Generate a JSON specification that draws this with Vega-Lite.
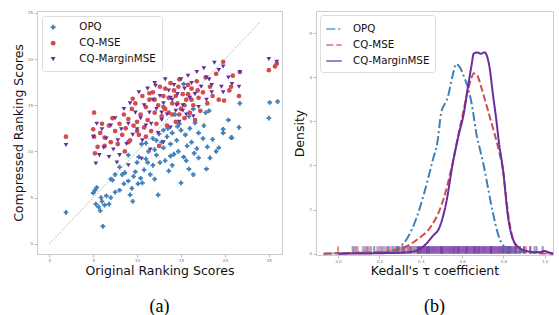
{
"$schema": "https://vega.github.io/schema/vega-lite/v6.json",
"background": "white",
"padding": {"left": 11, "top": 10, "right": 4, "bottom": 0},
"resolve": {"scale": {"color": "independent", "shape": "independent", "strokeDash": "independent"}, "legend": {"color": "independent", "shape": "independent", "strokeDash": "independent"}},
"config": {
 "view": {"stroke": "#cccccc", "strokeWidth": 1},
 "axis": {"domain": false, "grid": false, "tickColor": "#bbbbbb", "tickSize": 3, "labelFontSize": 4, "labelColor": "#777777", "labelPadding": 1.5, "labelFont": "DejaVu Sans", "titleFont": "DejaVu Sans", "titleFontSize": 12.5, "titleFontWeight": "normal", "titleColor": "#111111"},
 "legend": {"title": null, "orient": "top-left", "labelFont": "DejaVu Sans", "labelFontSize": 10.3, "labelColor": "#111111", "strokeColor": "#dddddd", "fillColor": "white", "cornerRadius": 3, "rowPadding": 4},
 "title": {"font": "Liberation Serif", "fontSize": 18, "fontWeight": "normal", "orient": "bottom", "anchor": "middle", "offset": 21, "color": "black"},
 "concat": {"spacing": 10}
},
"datasets": {
 "pts": [
{"m":"OPQ","x":1.9,"y":3.4},{"m":"OPQ","x":6.1,"y":1.9},{"m":"OPQ","x":5.0,"y":5.5},{"m":"OPQ","x":5.2,"y":5.8},{"m":"OPQ","x":5.4,"y":6.1},{"m":"OPQ","x":5.6,"y":4.0},{"m":"OPQ","x":5.3,"y":4.3},{"m":"OPQ","x":5.8,"y":3.6},{"m":"OPQ","x":6.0,"y":4.6},{"m":"OPQ","x":6.3,"y":4.2},{"m":"OPQ","x":5.9,"y":5.0},{"m":"OPQ","x":6.5,"y":5.2},{"m":"OPQ","x":7.0,"y":7.0},{"m":"OPQ","x":7.2,"y":6.9},{"m":"OPQ","x":7.5,"y":5.6},{"m":"OPQ","x":7.0,"y":5.0},{"m":"OPQ","x":6.8,"y":4.3},{"m":"OPQ","x":8.0,"y":5.8},{"m":"OPQ","x":8.3,"y":7.5},{"m":"OPQ","x":8.6,"y":7.7},{"m":"OPQ","x":8.5,"y":6.5},{"m":"OPQ","x":9.0,"y":6.8},{"m":"OPQ","x":9.2,"y":5.3},{"m":"OPQ","x":9.5,"y":4.6},{"m":"OPQ","x":9.4,"y":6.0},{"m":"OPQ","x":9.6,"y":7.3},{"m":"OPQ","x":9.8,"y":7.8},{"m":"OPQ","x":10.0,"y":8.8},{"m":"OPQ","x":10.2,"y":9.4},{"m":"OPQ","x":10.4,"y":7.1},{"m":"OPQ","x":10.1,"y":6.5},{"m":"OPQ","x":10.6,"y":6.6},{"m":"OPQ","x":10.8,"y":8.0},{"m":"OPQ","x":11.0,"y":9.2},{"m":"OPQ","x":11.3,"y":10.0},{"m":"OPQ","x":11.0,"y":10.9},{"m":"OPQ","x":11.5,"y":7.5},{"m":"OPQ","x":11.8,"y":8.5},{"m":"OPQ","x":12.0,"y":10.2},{"m":"OPQ","x":12.2,"y":9.6},{"m":"OPQ","x":12.4,"y":5.3},{"m":"OPQ","x":12.6,"y":8.8},{"m":"OPQ","x":12.8,"y":11.0},{"m":"OPQ","x":13.0,"y":10.4},{"m":"OPQ","x":13.2,"y":9.0},{"m":"OPQ","x":13.4,"y":11.6},{"m":"OPQ","x":13.6,"y":7.9},{"m":"OPQ","x":13.8,"y":10.8},{"m":"OPQ","x":14.0,"y":12.0},{"m":"OPQ","x":14.2,"y":9.7},{"m":"OPQ","x":14.0,"y":8.5},{"m":"OPQ","x":14.5,"y":11.2},{"m":"OPQ","x":14.7,"y":10.0},{"m":"OPQ","x":15.0,"y":6.6},{"m":"OPQ","x":15.0,"y":12.3},{"m":"OPQ","x":15.3,"y":9.4},{"m":"OPQ","x":15.5,"y":11.8},{"m":"OPQ","x":15.7,"y":10.6},{"m":"OPQ","x":15.9,"y":8.1},{"m":"OPQ","x":16.0,"y":12.5},{"m":"OPQ","x":16.2,"y":11.0},{"m":"OPQ","x":16.5,"y":9.8},{"m":"OPQ","x":16.8,"y":10.3},{"m":"OPQ","x":17.0,"y":12.0},{"m":"OPQ","x":17.5,"y":11.4},{"m":"OPQ","x":17.9,"y":8.1},{"m":"OPQ","x":18.0,"y":10.5},{"m":"OPQ","x":18.3,"y":9.3},{"m":"OPQ","x":18.6,"y":11.3},{"m":"OPQ","x":19.0,"y":10.0},{"m":"OPQ","x":19.3,"y":10.4},{"m":"OPQ","x":19.8,"y":12.0},{"m":"OPQ","x":20.7,"y":11.5},{"m":"OPQ","x":16.4,"y":7.5},{"m":"OPQ","x":14.8,"y":13.0},{"m":"OPQ","x":13.5,"y":12.5},{"m":"OPQ","x":12.5,"y":11.9},{"m":"OPQ","x":11.8,"y":11.4},{"m":"OPQ","x":10.5,"y":10.8},{"m":"OPQ","x":16.6,"y":13.1},{"m":"OPQ","x":17.6,"y":12.8},{"m":"OPQ","x":15.9,"y":13.8},{"m":"OPQ","x":14.3,"y":14.0},{"m":"OPQ","x":9.0,"y":9.6},{"m":"OPQ","x":8.0,"y":8.3},{"m":"OPQ","x":7.5,"y":7.5},{"m":"OPQ","x":12.0,"y":7.0},{"m":"OPQ","x":20.4,"y":13.4},{"m":"OPQ","x":21.6,"y":12.6},{"m":"OPQ","x":20.8,"y":11.5},{"m":"OPQ","x":19.8,"y":12.4},{"m":"OPQ","x":21.7,"y":15.2},{"m":"OPQ","x":15.3,"y":17.3},{"m":"OPQ","x":17.8,"y":14.2},{"m":"OPQ","x":18.2,"y":14.4},{"m":"OPQ","x":17.0,"y":9.3},{"m":"OPQ","x":25.1,"y":15.3},{"m":"OPQ","x":26.0,"y":15.4},{"m":"OPQ","x":25.0,"y":13.6},{"m":"OPQ","x":13.0,"y":12.3},{"m":"OPQ","x":14.6,"y":12.7},{"m":"OPQ","x":16.4,"y":14.6},{"m":"OPQ","x":12.2,"y":11.2},{"m":"OPQ","x":11.2,"y":8.8},{"m":"OPQ","x":13.8,"y":9.5},{"m":"OPQ","x":15.6,"y":9.0},
{"m":"CQ-MSE","x":1.9,"y":11.6},{"m":"CQ-MSE","x":5.1,"y":14.2},{"m":"CQ-MSE","x":5.1,"y":11.6},{"m":"CQ-MSE","x":5.2,"y":9.8},{"m":"CQ-MSE","x":6.3,"y":10.6},{"m":"CQ-MSE","x":8.6,"y":10.0},{"m":"CQ-MSE","x":12.5,"y":10.6},{"m":"CQ-MSE","x":5.0,"y":12.4},{"m":"CQ-MSE","x":5.5,"y":10.5},{"m":"CQ-MSE","x":5.8,"y":12.0},{"m":"CQ-MSE","x":6.0,"y":13.0},{"m":"CQ-MSE","x":6.3,"y":11.5},{"m":"CQ-MSE","x":6.8,"y":12.8},{"m":"CQ-MSE","x":7.0,"y":11.0},{"m":"CQ-MSE","x":7.2,"y":13.6},{"m":"CQ-MSE","x":7.5,"y":12.2},{"m":"CQ-MSE","x":7.8,"y":10.8},{"m":"CQ-MSE","x":8.0,"y":13.0},{"m":"CQ-MSE","x":8.3,"y":11.8},{"m":"CQ-MSE","x":8.5,"y":14.0},{"m":"CQ-MSE","x":8.7,"y":12.5},{"m":"CQ-MSE","x":9.0,"y":13.5},{"m":"CQ-MSE","x":9.2,"y":11.2},{"m":"CQ-MSE","x":9.4,"y":14.6},{"m":"CQ-MSE","x":9.5,"y":15.7},{"m":"CQ-MSE","x":9.6,"y":12.8},{"m":"CQ-MSE","x":9.8,"y":15.2},{"m":"CQ-MSE","x":10.0,"y":13.2},{"m":"CQ-MSE","x":10.2,"y":11.8},{"m":"CQ-MSE","x":10.4,"y":14.0},{"m":"CQ-MSE","x":10.6,"y":16.0},{"m":"CQ-MSE","x":10.8,"y":12.6},{"m":"CQ-MSE","x":11.0,"y":14.8},{"m":"CQ-MSE","x":11.2,"y":13.4},{"m":"CQ-MSE","x":11.4,"y":16.3},{"m":"CQ-MSE","x":11.4,"y":15.6},{"m":"CQ-MSE","x":11.6,"y":12.2},{"m":"CQ-MSE","x":11.8,"y":16.4},{"m":"CQ-MSE","x":12.0,"y":14.2},{"m":"CQ-MSE","x":12.2,"y":13.0},{"m":"CQ-MSE","x":12.4,"y":15.0},{"m":"CQ-MSE","x":12.6,"y":17.0},{"m":"CQ-MSE","x":12.8,"y":13.8},{"m":"CQ-MSE","x":13.0,"y":16.0},{"m":"CQ-MSE","x":13.2,"y":14.6},{"m":"CQ-MSE","x":13.4,"y":12.8},{"m":"CQ-MSE","x":13.6,"y":15.8},{"m":"CQ-MSE","x":13.8,"y":17.4},{"m":"CQ-MSE","x":14.0,"y":14.0},{"m":"CQ-MSE","x":14.2,"y":16.6},{"m":"CQ-MSE","x":14.4,"y":13.2},{"m":"CQ-MSE","x":14.6,"y":15.2},{"m":"CQ-MSE","x":14.7,"y":17.0},{"m":"CQ-MSE","x":14.8,"y":17.8},{"m":"CQ-MSE","x":15.0,"y":14.6},{"m":"CQ-MSE","x":15.2,"y":16.2},{"m":"CQ-MSE","x":15.4,"y":13.6},{"m":"CQ-MSE","x":15.6,"y":15.6},{"m":"CQ-MSE","x":15.8,"y":17.2},{"m":"CQ-MSE","x":16.0,"y":14.2},{"m":"CQ-MSE","x":16.2,"y":16.8},{"m":"CQ-MSE","x":16.4,"y":15.0},{"m":"CQ-MSE","x":16.6,"y":13.4},{"m":"CQ-MSE","x":16.8,"y":17.6},{"m":"CQ-MSE","x":16.9,"y":16.6},{"m":"CQ-MSE","x":17.0,"y":15.8},{"m":"CQ-MSE","x":17.2,"y":14.4},{"m":"CQ-MSE","x":17.5,"y":16.4},{"m":"CQ-MSE","x":17.8,"y":18.0},{"m":"CQ-MSE","x":18.0,"y":15.2},{"m":"CQ-MSE","x":18.3,"y":17.0},{"m":"CQ-MSE","x":18.6,"y":16.0},{"m":"CQ-MSE","x":19.0,"y":18.4},{"m":"CQ-MSE","x":19.3,"y":15.6},{"m":"CQ-MSE","x":19.8,"y":19.7},{"m":"CQ-MSE","x":19.9,"y":15.5},{"m":"CQ-MSE","x":20.7,"y":17.0},{"m":"CQ-MSE","x":20.9,"y":18.2},{"m":"CQ-MSE","x":21.7,"y":18.6},{"m":"CQ-MSE","x":21.6,"y":16.0},{"m":"CQ-MSE","x":20.5,"y":16.6},{"m":"CQ-MSE","x":25.0,"y":18.8},{"m":"CQ-MSE","x":25.9,"y":19.5},{"m":"CQ-MSE","x":25.7,"y":19.2},{"m":"CQ-MSE","x":14.0,"y":15.2},{"m":"CQ-MSE","x":13.6,"y":14.2},{"m":"CQ-MSE","x":14.8,"y":14.0},{"m":"CQ-MSE","x":15.4,"y":15.0},{"m":"CQ-MSE","x":13.0,"y":14.8},{"m":"CQ-MSE","x":12.0,"y":15.6},{"m":"CQ-MSE","x":15.8,"y":16.2},{"m":"CQ-MSE","x":14.4,"y":16.0},{"m":"CQ-MSE","x":13.2,"y":16.8},{"m":"CQ-MSE","x":16.2,"y":15.6},{"m":"CQ-MSE","x":10.0,"y":12.2},{"m":"CQ-MSE","x":9.0,"y":11.0},{"m":"CQ-MSE","x":11.0,"y":11.6},
{"m":"CQ-MarginMSE","x":1.9,"y":10.7},{"m":"CQ-MarginMSE","x":5.3,"y":8.7},{"m":"CQ-MarginMSE","x":5.0,"y":11.6},{"m":"CQ-MarginMSE","x":5.4,"y":13.0},{"m":"CQ-MarginMSE","x":5.7,"y":9.6},{"m":"CQ-MarginMSE","x":6.0,"y":12.4},{"m":"CQ-MarginMSE","x":6.2,"y":10.4},{"m":"CQ-MarginMSE","x":6.5,"y":11.4},{"m":"CQ-MarginMSE","x":6.8,"y":9.4},{"m":"CQ-MarginMSE","x":7.0,"y":12.8},{"m":"CQ-MarginMSE","x":7.3,"y":10.2},{"m":"CQ-MarginMSE","x":7.5,"y":13.6},{"m":"CQ-MarginMSE","x":7.8,"y":11.2},{"m":"CQ-MarginMSE","x":8.0,"y":9.6},{"m":"CQ-MarginMSE","x":8.2,"y":12.4},{"m":"CQ-MarginMSE","x":8.5,"y":14.6},{"m":"CQ-MarginMSE","x":8.8,"y":10.8},{"m":"CQ-MarginMSE","x":9.0,"y":13.0},{"m":"CQ-MarginMSE","x":9.2,"y":15.2},{"m":"CQ-MarginMSE","x":9.5,"y":11.8},{"m":"CQ-MarginMSE","x":9.8,"y":14.2},{"m":"CQ-MarginMSE","x":10.0,"y":12.4},{"m":"CQ-MarginMSE","x":10.2,"y":16.4},{"m":"CQ-MarginMSE","x":10.4,"y":13.6},{"m":"CQ-MarginMSE","x":10.6,"y":11.2},{"m":"CQ-MarginMSE","x":10.8,"y":15.0},{"m":"CQ-MarginMSE","x":11.0,"y":12.8},{"m":"CQ-MarginMSE","x":11.2,"y":16.8},{"m":"CQ-MarginMSE","x":11.4,"y":14.2},{"m":"CQ-MarginMSE","x":11.6,"y":13.0},{"m":"CQ-MarginMSE","x":11.8,"y":15.6},{"m":"CQ-MarginMSE","x":12.0,"y":17.4},{"m":"CQ-MarginMSE","x":12.1,"y":17.1},{"m":"CQ-MarginMSE","x":12.2,"y":14.6},{"m":"CQ-MarginMSE","x":12.4,"y":12.0},{"m":"CQ-MarginMSE","x":12.6,"y":16.0},{"m":"CQ-MarginMSE","x":12.8,"y":13.4},{"m":"CQ-MarginMSE","x":13.0,"y":15.2},{"m":"CQ-MarginMSE","x":13.2,"y":17.8},{"m":"CQ-MarginMSE","x":13.4,"y":14.0},{"m":"CQ-MarginMSE","x":13.6,"y":16.6},{"m":"CQ-MarginMSE","x":13.8,"y":12.6},{"m":"CQ-MarginMSE","x":14.0,"y":15.6},{"m":"CQ-MarginMSE","x":14.2,"y":17.2},{"m":"CQ-MarginMSE","x":14.4,"y":14.4},{"m":"CQ-MarginMSE","x":14.6,"y":16.2},{"m":"CQ-MarginMSE","x":14.8,"y":13.2},{"m":"CQ-MarginMSE","x":15.0,"y":17.8},{"m":"CQ-MarginMSE","x":15.2,"y":15.0},{"m":"CQ-MarginMSE","x":15.4,"y":16.8},{"m":"CQ-MarginMSE","x":15.6,"y":14.0},{"m":"CQ-MarginMSE","x":15.8,"y":18.2},{"m":"CQ-MarginMSE","x":16.0,"y":15.8},{"m":"CQ-MarginMSE","x":16.2,"y":17.4},{"m":"CQ-MarginMSE","x":16.4,"y":13.8},{"m":"CQ-MarginMSE","x":16.6,"y":16.2},{"m":"CQ-MarginMSE","x":16.8,"y":18.6},{"m":"CQ-MarginMSE","x":17.0,"y":14.8},{"m":"CQ-MarginMSE","x":17.3,"y":17.0},{"m":"CQ-MarginMSE","x":17.6,"y":19.0},{"m":"CQ-MarginMSE","x":17.9,"y":18.0},{"m":"CQ-MarginMSE","x":17.9,"y":15.6},{"m":"CQ-MarginMSE","x":18.2,"y":17.8},{"m":"CQ-MarginMSE","x":18.5,"y":17.2},{"m":"CQ-MarginMSE","x":18.5,"y":16.4},{"m":"CQ-MarginMSE","x":18.8,"y":19.6},{"m":"CQ-MarginMSE","x":19.3,"y":18.8},{"m":"CQ-MarginMSE","x":19.8,"y":19.2},{"m":"CQ-MarginMSE","x":20.4,"y":18.0},{"m":"CQ-MarginMSE","x":20.8,"y":17.3},{"m":"CQ-MarginMSE","x":21.6,"y":17.0},{"m":"CQ-MarginMSE","x":21.7,"y":18.6},{"m":"CQ-MarginMSE","x":19.8,"y":16.4},{"m":"CQ-MarginMSE","x":19.6,"y":17.0},{"m":"CQ-MarginMSE","x":25.0,"y":20.0},{"m":"CQ-MarginMSE","x":25.9,"y":19.7},{"m":"CQ-MarginMSE","x":9.0,"y":8.5},{"m":"CQ-MarginMSE","x":10.5,"y":9.2},{"m":"CQ-MarginMSE","x":7.7,"y":8.8},{"m":"CQ-MarginMSE","x":11.5,"y":10.2},{"m":"CQ-MarginMSE","x":13.0,"y":11.0},{"m":"CQ-MarginMSE","x":14.5,"y":15.0},{"m":"CQ-MarginMSE","x":13.8,"y":15.8},{"m":"CQ-MarginMSE","x":15.2,"y":14.4},{"m":"CQ-MarginMSE","x":12.8,"y":14.2}
 ],
 "kde": [
{"m":"OPQ","x":-0.07,"y":0},{"m":"OPQ","x":0.0,"y":0.01},{"m":"OPQ","x":0.1,"y":0.02},{"m":"OPQ","x":0.2,"y":0.03},{"m":"OPQ","x":0.255,"y":0.06},{"m":"OPQ","x":0.296,"y":0.14},{"m":"OPQ","x":0.336,"y":0.36},{"m":"OPQ","x":0.377,"y":0.78},{"m":"OPQ","x":0.417,"y":1.38},{"m":"OPQ","x":0.458,"y":2.12},{"m":"OPQ","x":0.482,"y":2.57},{"m":"OPQ","x":0.498,"y":3.17},{"m":"OPQ","x":0.531,"y":3.55},{"m":"OPQ","x":0.555,"y":4.05},{"m":"OPQ","x":0.571,"y":4.3},{"m":"OPQ","x":0.59,"y":4.22},{"m":"OPQ","x":0.61,"y":4.0},{"m":"OPQ","x":0.628,"y":3.77},{"m":"OPQ","x":0.652,"y":3.25},{"m":"OPQ","x":0.668,"y":2.75},{"m":"OPQ","x":0.69,"y":2.3},{"m":"OPQ","x":0.709,"y":1.9},{"m":"OPQ","x":0.729,"y":1.4},{"m":"OPQ","x":0.749,"y":0.93},{"m":"OPQ","x":0.765,"y":0.6},{"m":"OPQ","x":0.782,"y":0.33},{"m":"OPQ","x":0.806,"y":0.15},{"m":"OPQ","x":0.85,"y":0.05},{"m":"OPQ","x":0.9,"y":0.03},{"m":"OPQ","x":0.97,"y":0.04},{"m":"OPQ","x":1.0,"y":0.02},{"m":"OPQ","x":1.04,"y":0},
{"m":"CQ-MSE","x":-0.07,"y":0},{"m":"CQ-MSE","x":0.0,"y":0.01},{"m":"CQ-MSE","x":0.1,"y":0.02},{"m":"CQ-MSE","x":0.2,"y":0.03},{"m":"CQ-MSE","x":0.24,"y":0.04},{"m":"CQ-MSE","x":0.32,"y":0.14},{"m":"CQ-MSE","x":0.385,"y":0.33},{"m":"CQ-MSE","x":0.45,"y":0.62},{"m":"CQ-MSE","x":0.498,"y":1.07},{"m":"CQ-MSE","x":0.547,"y":1.9},{"m":"CQ-MSE","x":0.583,"y":2.72},{"m":"CQ-MSE","x":0.604,"y":3.17},{"m":"CQ-MSE","x":0.628,"y":3.7},{"m":"CQ-MSE","x":0.645,"y":3.98},{"m":"CQ-MSE","x":0.657,"y":4.09},{"m":"CQ-MSE","x":0.672,"y":4.05},{"m":"CQ-MSE","x":0.693,"y":3.77},{"m":"CQ-MSE","x":0.725,"y":3.25},{"m":"CQ-MSE","x":0.755,"y":2.75},{"m":"CQ-MSE","x":0.78,"y":2.3},{"m":"CQ-MSE","x":0.798,"y":1.9},{"m":"CQ-MSE","x":0.822,"y":0.93},{"m":"CQ-MSE","x":0.846,"y":0.33},{"m":"CQ-MSE","x":0.87,"y":0.14},{"m":"CQ-MSE","x":0.9,"y":0.05},{"m":"CQ-MSE","x":0.95,"y":0.02},{"m":"CQ-MSE","x":1.04,"y":0},
{"m":"CQ-MarginMSE","x":0.0,"y":0},{"m":"CQ-MarginMSE","x":0.2,"y":0.01},{"m":"CQ-MarginMSE","x":0.336,"y":0.03},{"m":"CQ-MarginMSE","x":0.385,"y":0.08},{"m":"CQ-MarginMSE","x":0.417,"y":0.18},{"m":"CQ-MarginMSE","x":0.458,"y":0.4},{"m":"CQ-MarginMSE","x":0.49,"y":0.59},{"m":"CQ-MarginMSE","x":0.523,"y":1.15},{"m":"CQ-MarginMSE","x":0.555,"y":2.05},{"m":"CQ-MarginMSE","x":0.585,"y":2.72},{"m":"CQ-MarginMSE","x":0.608,"y":3.17},{"m":"CQ-MarginMSE","x":0.628,"y":3.77},{"m":"CQ-MarginMSE","x":0.644,"y":4.22},{"m":"CQ-MarginMSE","x":0.657,"y":4.54},{"m":"CQ-MarginMSE","x":0.675,"y":4.56},{"m":"CQ-MarginMSE","x":0.69,"y":4.53},{"m":"CQ-MarginMSE","x":0.709,"y":4.56},{"m":"CQ-MarginMSE","x":0.717,"y":4.52},{"m":"CQ-MarginMSE","x":0.733,"y":4.22},{"m":"CQ-MarginMSE","x":0.749,"y":3.62},{"m":"CQ-MarginMSE","x":0.766,"y":3.02},{"m":"CQ-MarginMSE","x":0.777,"y":2.57},{"m":"CQ-MarginMSE","x":0.798,"y":1.9},{"m":"CQ-MarginMSE","x":0.822,"y":0.85},{"m":"CQ-MarginMSE","x":0.846,"y":0.33},{"m":"CQ-MarginMSE","x":0.88,"y":0.12},{"m":"CQ-MarginMSE","x":0.935,"y":0.04},{"m":"CQ-MarginMSE","x":0.97,"y":0.03},{"m":"CQ-MarginMSE","x":1.0,"y":0.06},{"m":"CQ-MarginMSE","x":1.02,"y":0.03},{"m":"CQ-MarginMSE","x":1.04,"y":0}
 ],
 "rug": [
{"m":"OPQ","v":0.07},{"m":"OPQ","v":0.12},{"m":"OPQ","v":0.16},{"m":"OPQ","v":0.19},{"m":"OPQ","v":0.22},{"m":"OPQ","v":0.245},{"m":"OPQ","v":0.265},{"m":"OPQ","v":0.28},{"m":"OPQ","v":0.295},{"m":"OPQ","v":0.31},{"m":"OPQ","v":0.32},{"m":"OPQ","v":0.335},{"m":"OPQ","v":0.345},{"m":"OPQ","v":0.36},{"m":"OPQ","v":0.37},{"m":"OPQ","v":0.38},{"m":"OPQ","v":0.39},{"m":"OPQ","v":0.4},{"m":"OPQ","v":0.44},{"m":"OPQ","v":0.5},{"m":"OPQ","v":0.56},{"m":"OPQ","v":0.62},{"m":"OPQ","v":0.68},{"m":"OPQ","v":0.74},{"m":"OPQ","v":0.8},{"m":"OPQ","v":0.83},{"m":"OPQ","v":0.9},{"m":"OPQ","v":0.95},
{"m":"CQ-MSE","v":0.0},{"m":"CQ-MSE","v":0.075},{"m":"CQ-MSE","v":0.095},{"m":"CQ-MSE","v":0.13},{"m":"CQ-MSE","v":0.15},{"m":"CQ-MSE","v":0.2},{"m":"CQ-MSE","v":0.23},{"m":"CQ-MSE","v":0.255},{"m":"CQ-MSE","v":0.27},{"m":"CQ-MSE","v":0.29},{"m":"CQ-MSE","v":0.305},{"m":"CQ-MSE","v":0.325},{"m":"CQ-MSE","v":0.34},{"m":"CQ-MSE","v":0.355},{"m":"CQ-MSE","v":0.37},{"m":"CQ-MSE","v":0.385},{"m":"CQ-MSE","v":0.43},{"m":"CQ-MSE","v":0.5},{"m":"CQ-MSE","v":0.58},{"m":"CQ-MSE","v":0.66},{"m":"CQ-MSE","v":0.74},{"m":"CQ-MSE","v":0.82},{"m":"CQ-MSE","v":0.86},{"m":"CQ-MSE","v":0.88},{"m":"CQ-MSE","v":0.91},{"m":"CQ-MSE","v":0.93},
{"m":"CQ-MarginMSE","v":0.085},{"m":"CQ-MarginMSE","v":0.14},{"m":"CQ-MarginMSE","v":0.175},{"m":"CQ-MarginMSE","v":0.21},{"m":"CQ-MarginMSE","v":0.24},{"m":"CQ-MarginMSE","v":0.285},{"m":"CQ-MarginMSE","v":0.315},{"m":"CQ-MarginMSE","v":0.35},{"m":"CQ-MarginMSE","v":0.385},{"m":"CQ-MarginMSE","v":0.392},{"m":"CQ-MarginMSE","v":0.398},{"m":"CQ-MarginMSE","v":0.404},{"m":"CQ-MarginMSE","v":0.41},{"m":"CQ-MarginMSE","v":0.415},{"m":"CQ-MarginMSE","v":0.42},{"m":"CQ-MarginMSE","v":0.426},{"m":"CQ-MarginMSE","v":0.431},{"m":"CQ-MarginMSE","v":0.437},{"m":"CQ-MarginMSE","v":0.442},{"m":"CQ-MarginMSE","v":0.448},{"m":"CQ-MarginMSE","v":0.453},{"m":"CQ-MarginMSE","v":0.459},{"m":"CQ-MarginMSE","v":0.464},{"m":"CQ-MarginMSE","v":0.47},{"m":"CQ-MarginMSE","v":0.475},{"m":"CQ-MarginMSE","v":0.481},{"m":"CQ-MarginMSE","v":0.486},{"m":"CQ-MarginMSE","v":0.492},{"m":"CQ-MarginMSE","v":0.497},{"m":"CQ-MarginMSE","v":0.503},{"m":"CQ-MarginMSE","v":0.508},{"m":"CQ-MarginMSE","v":0.514},{"m":"CQ-MarginMSE","v":0.519},{"m":"CQ-MarginMSE","v":0.525},{"m":"CQ-MarginMSE","v":0.53},{"m":"CQ-MarginMSE","v":0.536},{"m":"CQ-MarginMSE","v":0.541},{"m":"CQ-MarginMSE","v":0.547},{"m":"CQ-MarginMSE","v":0.552},{"m":"CQ-MarginMSE","v":0.558},{"m":"CQ-MarginMSE","v":0.563},{"m":"CQ-MarginMSE","v":0.569},{"m":"CQ-MarginMSE","v":0.574},{"m":"CQ-MarginMSE","v":0.58},{"m":"CQ-MarginMSE","v":0.585},{"m":"CQ-MarginMSE","v":0.591},{"m":"CQ-MarginMSE","v":0.596},{"m":"CQ-MarginMSE","v":0.602},{"m":"CQ-MarginMSE","v":0.607},{"m":"CQ-MarginMSE","v":0.613},{"m":"CQ-MarginMSE","v":0.618},{"m":"CQ-MarginMSE","v":0.624},{"m":"CQ-MarginMSE","v":0.629},{"m":"CQ-MarginMSE","v":0.635},{"m":"CQ-MarginMSE","v":0.64},{"m":"CQ-MarginMSE","v":0.646},{"m":"CQ-MarginMSE","v":0.651},{"m":"CQ-MarginMSE","v":0.657},{"m":"CQ-MarginMSE","v":0.662},{"m":"CQ-MarginMSE","v":0.668},{"m":"CQ-MarginMSE","v":0.673},{"m":"CQ-MarginMSE","v":0.679},{"m":"CQ-MarginMSE","v":0.684},{"m":"CQ-MarginMSE","v":0.69},{"m":"CQ-MarginMSE","v":0.695},{"m":"CQ-MarginMSE","v":0.701},{"m":"CQ-MarginMSE","v":0.706},{"m":"CQ-MarginMSE","v":0.712},{"m":"CQ-MarginMSE","v":0.717},{"m":"CQ-MarginMSE","v":0.723},{"m":"CQ-MarginMSE","v":0.728},{"m":"CQ-MarginMSE","v":0.734},{"m":"CQ-MarginMSE","v":0.739},{"m":"CQ-MarginMSE","v":0.745},{"m":"CQ-MarginMSE","v":0.75},{"m":"CQ-MarginMSE","v":0.756},{"m":"CQ-MarginMSE","v":0.761},{"m":"CQ-MarginMSE","v":0.767},{"m":"CQ-MarginMSE","v":0.772},{"m":"CQ-MarginMSE","v":0.778},{"m":"CQ-MarginMSE","v":0.783},{"m":"CQ-MarginMSE","v":0.789},{"m":"CQ-MarginMSE","v":0.794},{"m":"CQ-MarginMSE","v":0.8},{"m":"CQ-MarginMSE","v":0.805},{"m":"CQ-MarginMSE","v":0.811},{"m":"CQ-MarginMSE","v":0.816},{"m":"CQ-MarginMSE","v":0.822},{"m":"CQ-MarginMSE","v":0.827},{"m":"CQ-MarginMSE","v":0.833},{"m":"CQ-MarginMSE","v":0.838},{"m":"CQ-MarginMSE","v":0.844},{"m":"CQ-MarginMSE","v":0.85},{"m":"CQ-MarginMSE","v":0.856},{"m":"CQ-MarginMSE","v":0.862},{"m":"CQ-MarginMSE","v":0.87},{"m":"CQ-MarginMSE","v":0.88},{"m":"CQ-MarginMSE","v":0.9},{"m":"CQ-MarginMSE","v":0.93},{"m":"CQ-MarginMSE","v":0.96},{"m":"CQ-MarginMSE","v":0.99}
 ]
},
"hconcat": [
 {
  "width": 245, "height": 243,
  "title": "(a)",
  "layer": [
   {
    "data": {"values": [{"x": 0, "y": 0}, {"x": 24, "y": 24}]},
    "mark": {"type": "line", "color": "#9a9a9a", "strokeDash": [1.5, 1.5], "strokeWidth": 0.8},
    "encoding": {
     "x": {"field": "x", "type": "quantitative", "scale": {"domain": [-1.4, 26.5], "nice": false, "zero": false}, "axis": {"values": [0,5,10,15,20,25], "title": "Original Ranking Scores", "titlePadding": 2}},
     "y": {"field": "y", "type": "quantitative", "scale": {"domain": [-1.1, 25.2], "nice": false, "zero": false}, "axis": {"values": [0,5,10,15,20,25], "title": "Compressed Ranking Scores", "titlePadding": 2}}
    }
   },
   {
    "data": {"name": "pts"},
    "mark": {"type": "point", "filled": true, "opacity": 1, "size": 22},
    "encoding": {
     "x": {"field": "x", "type": "quantitative"},
     "y": {"field": "y", "type": "quantitative"},
     "color": {"field": "m", "type": "nominal", "scale": {"domain": ["OPQ", "CQ-MSE", "CQ-MarginMSE"], "range": ["#3e80b9", "#cf4c50", "#6a2d9f"]}, "legend": {"offset": 5, "padding": 6, "labelOffset": 21, "symbolSize": 24, "rowPadding": 5}},
     "shape": {"field": "m", "type": "nominal", "scale": {"domain": ["OPQ", "CQ-MSE", "CQ-MarginMSE"], "range": ["cross", "circle", "triangle-down"]}}
    }
   }
  ]
 },
 {
  "width": 237, "height": 244,
  "title": "(b)",
  "layer": [
   {
    "data": {"name": "rug"},
    "mark": {"type": "rule", "strokeWidth": 2, "opacity": 0.6},
    "encoding": {
     "x": {"field": "v", "type": "quantitative", "scale": {"domain": [-0.107, 1.04], "nice": false, "zero": false}, "axis": {"values": [0,0.2,0.4,0.6,0.8,1.0], "format": ".1f", "title": "Kedall's τ coefficient", "titlePadding": 1}},
     "y": {"datum": 0, "type": "quantitative", "scale": {"domain": [-0.03, 5.5], "nice": false, "zero": false}, "axis": {"values": [0,1,2,3,4,5], "format": "d", "title": "Density", "titlePadding": 2}},
     "y2": {"datum": 0.17},
     "color": {"field": "m", "type": "nominal", "scale": {"domain": ["OPQ", "CQ-MSE", "CQ-MarginMSE"], "range": ["#3e80b9", "#cf4c50", "#6a2d9f"]}}
    }
   },
   {
    "data": {"name": "kde"},
    "mark": {"type": "line", "strokeWidth": 2, "interpolate": "monotone"},
    "encoding": {
     "x": {"field": "x", "type": "quantitative"},
     "y": {"field": "y", "type": "quantitative"},
     "color": {"field": "m", "type": "nominal", "scale": {"domain": ["OPQ", "CQ-MSE", "CQ-MarginMSE"], "range": ["#3e80b9", "#cf4c50", "#6a2d9f"]}, "legend": {"offset": 4, "padding": 5, "symbolType": "stroke", "symbolSize": 240, "symbolStrokeWidth": 2, "labelOffset": 10, "rowPadding": 1}},
     "strokeDash": {"field": "m", "type": "nominal", "scale": {"domain": ["OPQ", "CQ-MSE", "CQ-MarginMSE"], "range": [[9, 3, 2, 3], [7, 3], [1, 0]]}}
    }
   }
  ]
 }
]
}
